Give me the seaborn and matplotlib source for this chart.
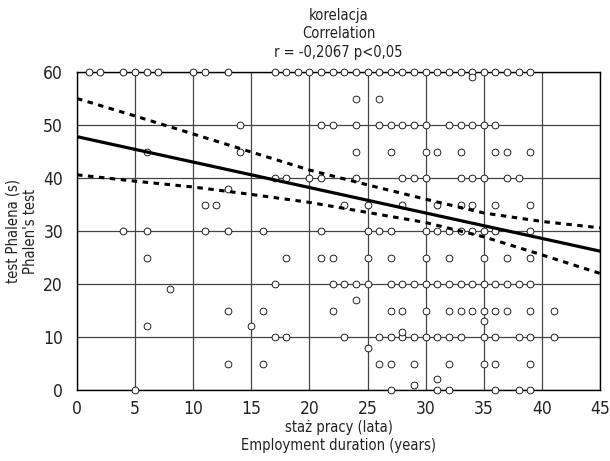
import matplotlib
matplotlib.use("Agg")
import matplotlib.pyplot as plt
import seaborn as sns
import pandas as pd

# staż pracy (lata) dla punktów na danym poziomie testu Phalena (s)
x_60 = [1, 2, 4, 5, 6, 7, 10, 11, 13, 17, 18, 19, 20, 21, 22, 23, 24, 25, 26,
        27, 28, 29, 30, 31, 32, 33, 34, 35, 36, 37, 38, 39]
x_55 = [24, 26]
x_50 = [14, 21, 22, 24, 26, 27, 28, 29, 30, 32, 33, 34, 35, 36]
x_45 = [6, 14, 24, 27, 30, 31, 33, 36, 37, 39]
x_40 = [17, 18, 20, 21, 24, 28, 29, 30, 33, 34, 35, 37, 38]
x_35 = [11, 12, 23, 25, 28, 31, 33, 34, 36, 39]
x_30 = [4, 6, 11, 13, 16, 21, 25, 26, 27, 30, 31, 32, 33, 34, 35, 36, 39]
x_25 = [6, 18, 21, 22, 25, 27, 30, 32, 35, 37, 39]
x_20 = [17, 22, 23, 24, 25, 27, 28, 29, 30, 31, 32, 33, 34, 35, 36, 37, 38, 39]
x_15 = [13, 16, 22, 27, 28, 30, 32, 33, 34, 35, 36, 37, 39, 41]
x_10 = [17, 18, 23, 26, 27, 28, 29, 30, 31, 32, 33, 35, 36, 38, 39, 41]
x_5 = [13, 16, 26, 27, 29, 32, 35, 36, 39]
x_0 = [5, 27, 31, 32, 36, 38, 39]

# pojedyncze punkty
extra_x = [34, 13, 24, 35, 6, 15, 28, 25, 31, 29, 8]
extra_y = [59, 38, 17, 13, 12, 12, 11, 8, 2, 1, 19]

# prosta regresji i 95% przedział ufności
fit_x = [0, 5, 10, 15, 20, 25, 30, 35, 40, 45]
fit_y = [47.8, 45.4, 43.0, 40.6, 38.2, 35.8, 33.4, 31.0, 28.6, 26.2]
ci_upper = [55.0, 51.7, 48.3, 44.9, 41.5, 38.7, 36.0, 33.4, 31.8, 30.6]
ci_lower = [40.6, 39.4, 38.3, 36.9, 35.4, 33.5, 31.6, 28.9, 25.5, 22.0]

levels = [(60, x_60), (55, x_55), (50, x_50), (45, x_45), (40, x_40), (35, x_35),
          (30, x_30), (25, x_25), (20, x_20), (15, x_15), (10, x_10), (5, x_5), (0, x_0)]
staz = []
phalen = []
for level, xs in levels:
    staz += xs
    phalen += [level] * len(xs)
staz += extra_x
phalen += extra_y
df = pd.DataFrame({"staz": staz, "phalen": phalen})

sns.set_style("white")
plt.rcParams['font.family'] = ['DejaVu Sans']
plt.rcParams['font.stretch'] = 'condensed'

fig, ax = plt.subplots(figsize=(6.1, 4.61), dpi=100)
fig.subplots_adjust(left=77/610, right=600/610, top=1-72/461, bottom=1-390/461)

sns.scatterplot(data=df, x="staz", y="phalen", marker="o", s=24, color="white",
                edgecolor="black", linewidth=0.6, clip_on=False, zorder=3, ax=ax)

dash = (0, (1.8, 1.8))
sns.lineplot(x=fit_x, y=fit_y, color="black", lw=2.3, zorder=4, ax=ax)
sns.lineplot(x=fit_x, y=ci_upper, color="black", lw=2.2, linestyle=dash, zorder=4, ax=ax)
sns.lineplot(x=fit_x, y=ci_lower, color="black", lw=2.2, linestyle=dash, zorder=4, ax=ax)

ax.set_xlim(0, 45)
ax.set_ylim(0, 60)
ax.set_xticks(range(0, 46, 5))
ax.set_yticks(range(0, 61, 10))
ax.grid(True, color="#444444", linewidth=0.9)
ax.set_axisbelow(True)
for s in ax.spines.values():
    s.set_color("black")
    s.set_linewidth(1)
ax.tick_params(axis="x", length=0, labelsize=12.5, pad=7, colors="#222222")
ax.tick_params(axis="y", length=0, labelsize=12.5, pad=10, colors="#222222")

ax.set_xlabel("staż pracy (lata)\nEmployment duration (years)", fontsize=10.5,
              linespacing=1.3, color="#222222")
ax.xaxis.set_label_coords(0.5, -0.094)
ax.set_ylabel("test Phalena (s)\nPhalen's test", fontsize=10.5, linespacing=1.15,
              color="#222222")
ax.yaxis.set_label_coords(-0.075, 0.5)
ax.set_title("korelacja\nCorrelation\nr = -0,2067 p<0,05", fontsize=10.5,
             linespacing=1.3, pad=11, color="#222222")

plt.savefig("out.png", dpi=100)
